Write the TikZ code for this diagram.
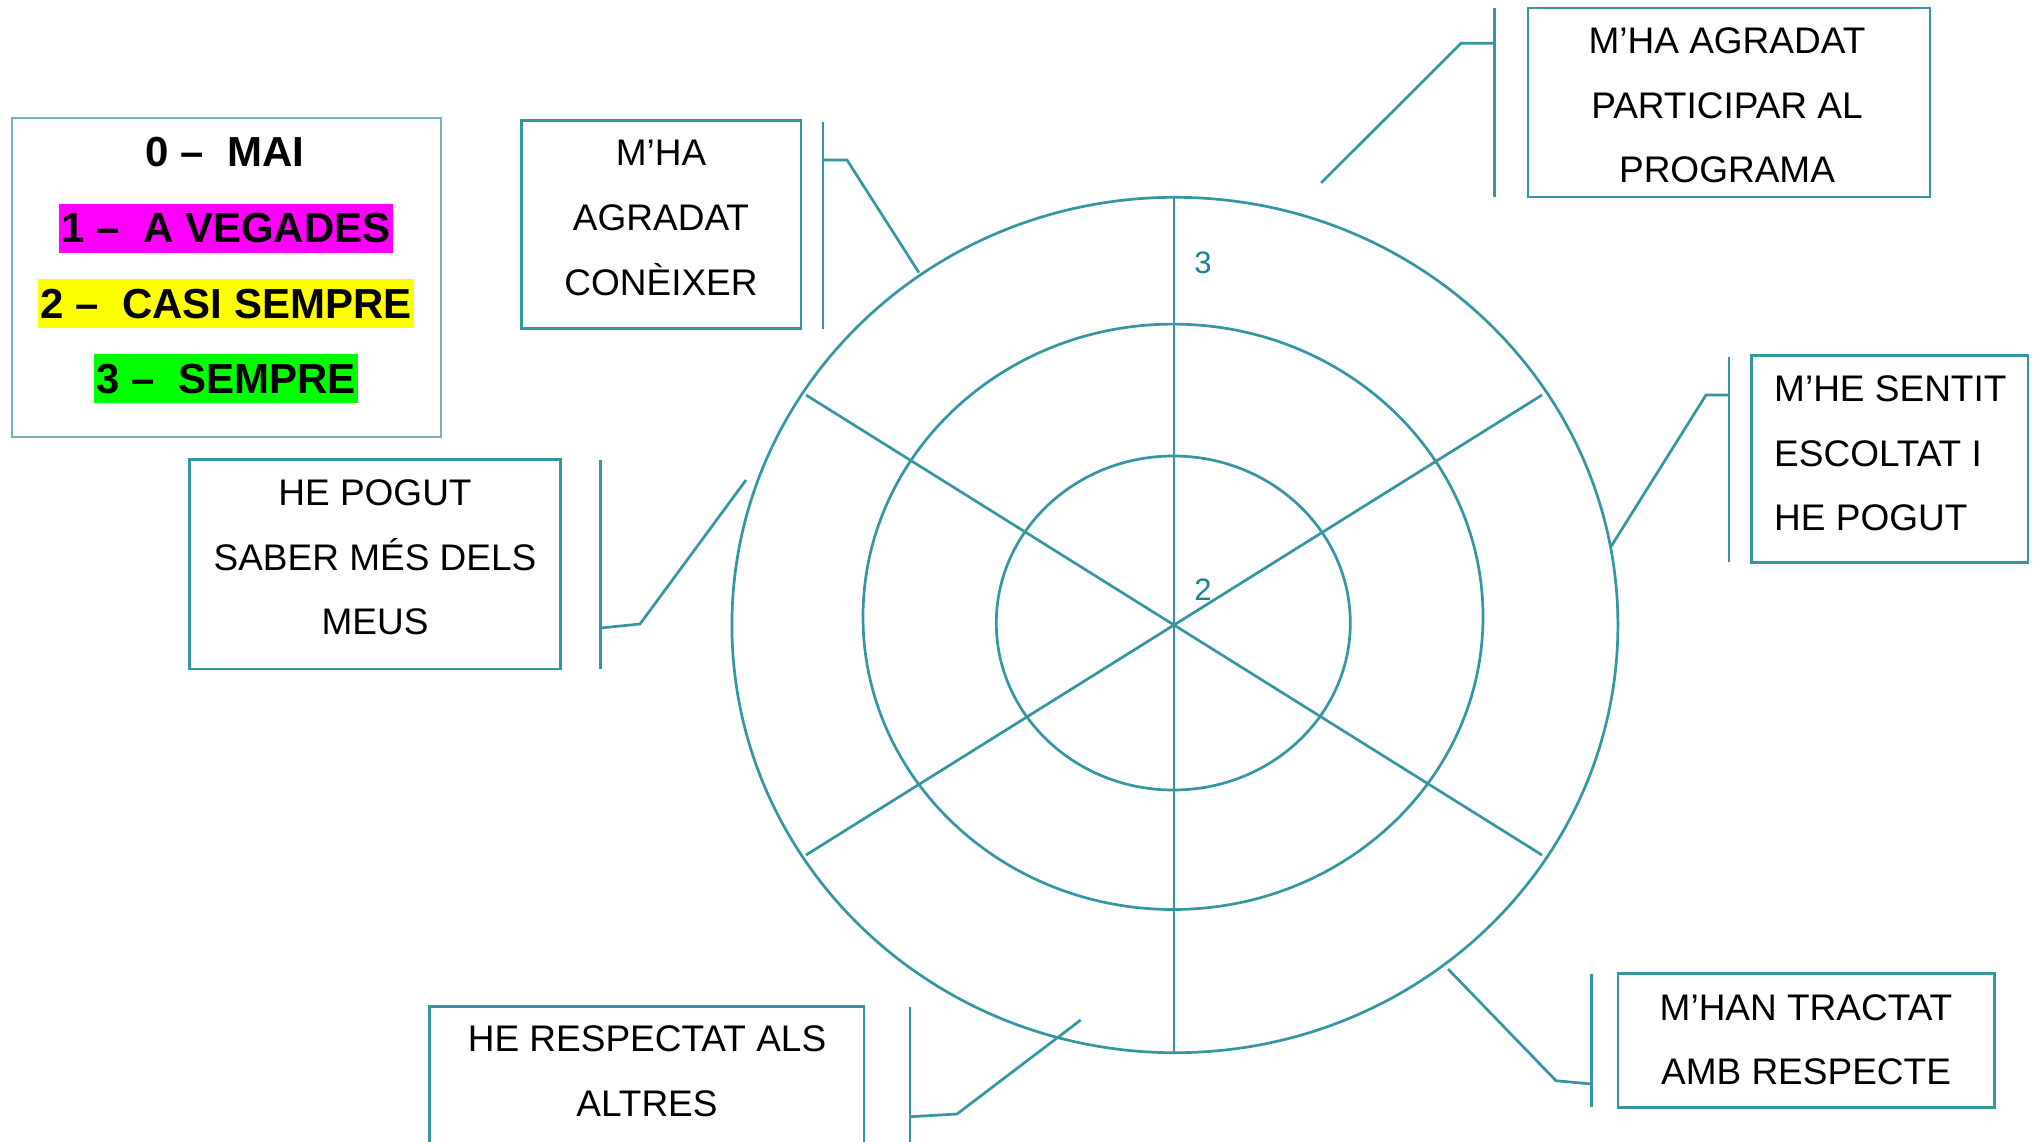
\documentclass[tikz,border=0pt]{standalone}
\usepackage{fontspec}
\setmainfont{Liberation Sans}
\definecolor{tealln}{RGB}{52,150,160}
\definecolor{numcol}{RGB}{20,130,150}
\definecolor{legbord}{RGB}{120,175,190}
\definecolor{hmag}{RGB}{255,0,255}
\definecolor{hyel}{RGB}{255,255,0}
\definecolor{hgrn}{RGB}{0,255,0}
\begin{document}
\begin{tikzpicture}[x=1pt,y=-1pt,
  ln/.style={draw=tealln,line width=2.7pt},
  boxst/.style={draw=tealln,line width=2.7pt,rectangle,inner sep=0pt},
  txt/.style={font=\fontsize{37}{44}\selectfont,anchor=base,inner sep=0pt},
  txtl/.style={txt,anchor=base west},
  leg/.style={font=\bfseries\fontsize{42}{50}\selectfont,anchor=base,inner xsep=2pt,inner ysep=10pt,text height=29pt,text depth=0pt},
  num/.style={font=\fontsize{31}{37}\selectfont,text=numcol,anchor=base,inner sep=0pt}]
\clip (0,0) rectangle (2034,1141);
\fill[white] (0,0) rectangle (2034,1141);

% ---- radar ellipses and spokes
\draw[ln] (1174.9,625) ellipse [x radius=443pt, y radius=427.7pt];
\draw[ln] (1173,616.8) ellipse [x radius=310pt, y radius=292.7pt];
\draw[ln] (1173.3,623) ellipse [x radius=177pt, y radius=167pt];
\coordinate (sT) at (1174,197.3);
\coordinate (sB) at (1174,1052.7);
\coordinate (sUL) at (806,395);
\coordinate (sLR) at (1542,855);
\coordinate (sLL) at (806,855);
\coordinate (sUR) at (1542,395);
\draw[ln] (sT) -- (sB);
\draw[ln] (sUL) -- (sLR);
\draw[ln] (sLL) -- (sUR);
\node[num] (n3) at (1203,273.3) {3};
\node[num] (n2) at (1203,600) {2};

% ---- legend
\node[rectangle,draw=legbord,line width=2pt,minimum width=429.3pt,minimum height=318.5pt] (legend) at (226.35,277.25) {};
\node[leg] (l0) at (225,166.7) {0 –\ \ MAI};
\node[leg,fill=hmag] (l1) at (226,242.7) {1 –\ \ A VEGADES};
\node[leg,fill=hyel] (l2) at (226,318.3) {2 –\ \ CASI SEMPRE};
\node[leg,fill=hgrn] (l3) at (226,393.3) {3 –\ \ SEMPRE};

% ---- box A
\node[boxst,minimum width=279.5pt,minimum height=207.9pt] (bA) at (661.25,224.55) {};
\node[txt] (a1) at (661,165.7) {M’HA};
\node[txt] (a2) at (661,230.7) {AGRADAT};
\node[txt] (a3) at (661,295) {CONÈIXER};
\coordinate (aT) at (823,121.7); \coordinate (aB) at (823,328.7);
\coordinate (aK) at (823,160); \coordinate (aE) at (847,160); \coordinate (aC) at (919,272.7);
\draw[ln] (aT) -- (aB);
\draw[ln] (aK) -- (aE) -- (aC);

% ---- box B
\node[boxst,minimum width=402pt,minimum height=189pt] (bB) at (1729,102.5) {};
\node[txt] (b1) at (1727,53.3) {M’HA AGRADAT};
\node[txt] (b2) at (1727,118.3) {PARTICIPAR AL};
\node[txt] (b3) at (1727,182.7) {PROGRAMA};
\coordinate (bT) at (1494.7,8); \coordinate (bBo) at (1494.7,197);
\coordinate (bK) at (1494.7,43.3); \coordinate (bE) at (1461,43.3); \coordinate (bC) at (1321,183);
\draw[ln] (bT) -- (bBo);
\draw[ln] (bK) -- (bE) -- (bC);

% ---- box C
\node[boxst,minimum width=276.5pt,minimum height=207.2pt] (bCx) at (1889.75,459.1) {};
\node[txtl] (c1) at (1774,401.7) {M’HE SENTIT};
\node[txtl] (c2) at (1774,466) {ESCOLTAT I};
\node[txtl] (c3) at (1774,530.7) {HE POGUT};
\coordinate (cT) at (1729,356.7); \coordinate (cB) at (1729,561.7);
\coordinate (cK) at (1729,395); \coordinate (cE) at (1706,395); \coordinate (cC) at (1610.7,547);
\draw[ln] (cT) -- (cB);
\draw[ln] (cK) -- (cE) -- (cC);

% ---- box D
\node[boxst,minimum width=371pt,minimum height=209.7pt] (bD) at (374.9,564.15) {};
\node[txt] (d1) at (375,505) {HE POGUT};
\node[txt] (d2) at (375,570) {SABER MÉS DELS};
\node[txt] (d3) at (375,634) {MEUS};
\coordinate (dT) at (600.5,460); \coordinate (dB) at (600.5,668.7);
\coordinate (dK) at (600.5,628); \coordinate (dE) at (640,624); \coordinate (dC) at (746,480);
\draw[ln] (dT) -- (dB);
\draw[ln] (dK) -- (dE) -- (dC);

% ---- box E
\node[boxst,minimum width=434.2pt,minimum height=193.3pt] (bE) at (646.9,1103.35) {};
\node[txt] (e1) at (647,1051.7) {HE RESPECTAT ALS};
\node[txt] (e2) at (647,1116.7) {ALTRES};
\coordinate (eT) at (910,1006.7); \coordinate (eB) at (910,1160);
\coordinate (eK) at (910,1116.7); \coordinate (eE) at (957,1114); \coordinate (eC) at (1080.7,1020);
\draw[ln] (eT) -- (eB);
\draw[ln] (eK) -- (eE) -- (eC);

% ---- box F
\node[boxst,minimum width=376.5pt,minimum height=134pt] (bF) at (1806.25,1040.5) {};
\node[txt] (f1) at (1806,1020) {M’HAN TRACTAT};
\node[txt] (f2) at (1806,1084) {AMB RESPECTE};
\coordinate (fT) at (1591.5,974); \coordinate (fB) at (1591.5,1106.7);
\coordinate (fK) at (1591.5,1084); \coordinate (fE) at (1556,1080.7); \coordinate (fC) at (1448,969);
\draw[ln] (fT) -- (fB);
\draw[ln] (fK) -- (fE) -- (fC);
\end{tikzpicture}
\end{document}
